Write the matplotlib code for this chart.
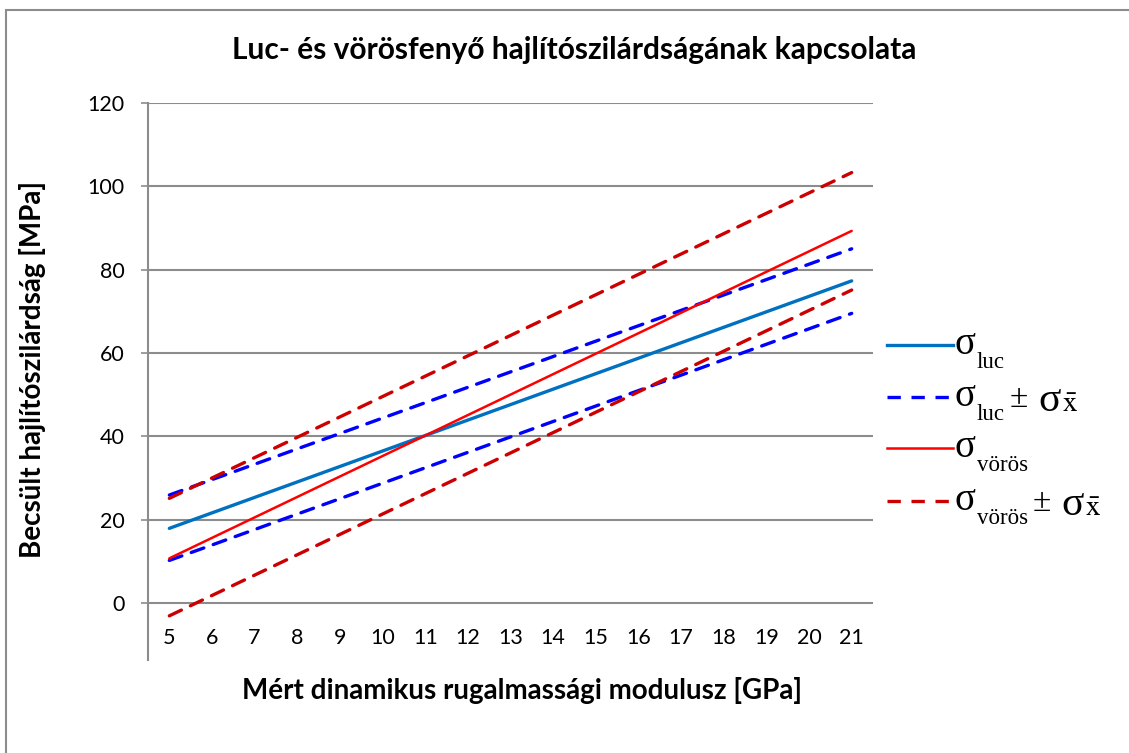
import matplotlib
matplotlib.use("Agg")
import matplotlib.pyplot as plt
from matplotlib.patches import Rectangle
from matplotlib.lines import Line2D

# Endpoints of the fitted regression lines (modulus in GPa -> strength in MPa)
modulus = [5, 21]
sigma_luc = [17.9, 77.3]
sigma_luc_upper = [25.9, 85.0]
sigma_luc_lower = [10.2, 69.5]
sigma_voros = [10.7, 89.3]
sigma_voros_upper = [25.1, 103.3]
sigma_voros_lower = [-3.1, 75.1]

category_ticks = list(range(5, 22))
y_ticks = [0, 20, 40, 60, 80, 100, 120]

title = "Luc- és vörösfenyő hajlítószilárdságának kapcsolata"
x_label = "Mért dinamikus rugalmassági modulusz [GPa]"
y_label = "Becsült hajlítószilárdság [MPa]"

# legend entries: (subscript, shows "± σ_x̄")
legend_entries = [("luc", False), ("luc", True), ("vörös", False), ("vörös", True)]

plt.rcParams["font.family"] = ["Lato", "DejaVu Sans"]
plt.rcParams["mathtext.fontset"] = "stix"

W, H = 1129, 753
fig = plt.figure(figsize=(W / 100, H / 100), dpi=100)


def fx(px):
    return px / W


def fy(py):
    return 1 - py / H


# chart frame
fig.patches.append(Rectangle((fx(6), -0.05), 1.1, fy(10) + 0.05,
                             transform=fig.transFigure, fill=False,
                             edgecolor="#8c8c8c", linewidth=1.5))

ax = fig.add_axes([fx(148), fy(660), 725 / W, (660 - 103) / H])
ax.set_xlim(4.5, 21.5)
ax.set_ylim(-13.7, 120)

grid_c = "#8c8c8c"
for v in y_ticks:
    ax.axhline(v, color=grid_c, linewidth=1.5, zorder=1)

lw = 2.4
dash = (4, 3)
styles = [
    (sigma_luc, dict(color="#0070C0", linewidth=lw, solid_capstyle="round", zorder=3)),
    (sigma_luc_upper, dict(color="#0000FF", linewidth=lw, dashes=dash, dash_capstyle="round", zorder=3)),
    (sigma_luc_lower, dict(color="#0000FF", linewidth=lw, dashes=dash, dash_capstyle="round", zorder=3)),
    (sigma_voros, dict(color="#FF0000", linewidth=1.8, solid_capstyle="round", zorder=4)),
    (sigma_voros_upper, dict(color="#CC0000", linewidth=lw, dashes=dash, dash_capstyle="round", zorder=4)),
    (sigma_voros_lower, dict(color="#CC0000", linewidth=lw, dashes=dash, dash_capstyle="round", zorder=4)),
]
for values, kw in styles:
    ax.plot(modulus, values, **kw)

for s in ["top", "right", "bottom"]:
    ax.spines[s].set_visible(False)
ax.spines["left"].set_color(grid_c)
ax.spines["left"].set_linewidth(1.5)

ax.set_yticks(y_ticks)
ax.tick_params(axis="y", length=5, width=1.2, color=grid_c, pad=12, labelsize=15.5)
ax.set_xticks(category_ticks)
ax.tick_params(axis="x", length=0, pad=-23, labelsize=15.5)

fig.text(fx(574), fy(50), title, ha="center", va="center", fontsize=21.5, fontweight="bold")
fig.text(fx(522), fy(690), x_label, ha="center", va="center", fontsize=20, fontweight="bold")
fig.text(fx(33), fy(370), y_label, ha="center", va="center", rotation=90,
         fontsize=20, fontweight="bold")

# legend drawn by hand: line sample, then σ with a lowered subscript
serif = ["Liberation Serif", "DejaVu Serif"]
legend_lines = [
    dict(color="#0070C0", linewidth=lw),
    dict(color="#0000FF", linewidth=lw, dashes=(4, 3.2)),
    dict(color="#FF0000", linewidth=1.8),
    dict(color="#CC0000", linewidth=lw, dashes=(4, 3.2)),
]
handle_y = [345, 397, 448, 501]
renderer = fig.canvas.get_renderer()
for (sub, pm), kw, hy in zip(legend_entries, legend_lines, handle_y):
    fig.add_artist(Line2D([fx(887), fx(953)], [fy(hy), fy(hy)], transform=fig.transFigure, **kw))
    base = hy + 9
    fig.text(fx(955), fy(base), "σ", family=serif, fontsize=28, ha="left", va="baseline")
    t_sub = fig.text(fx(977), fy(base + 14), sub, family=serif, fontsize=16.5,
                     ha="left", va="baseline")
    if pm:
        x_end = t_sub.get_window_extent(renderer).x1
        t_pm = fig.text((x_end + 5) / W, fy(base + 1), "±", family=serif, fontsize=24,
                        ha="left", va="baseline")
        x_end = t_pm.get_window_extent(renderer).x1
        t_s2 = fig.text((x_end + 10) / W, fy(base + 5), "σ", family=serif, fontsize=30,
                        ha="left", va="baseline")
        x_end = t_s2.get_window_extent(renderer).x1
        fig.text((x_end + 1) / W, fy(base + 6), r"$\bar{\mathrm{x}}$", fontsize=21,
                 ha="left", va="baseline")

fig.savefig("out.png", dpi=100)
